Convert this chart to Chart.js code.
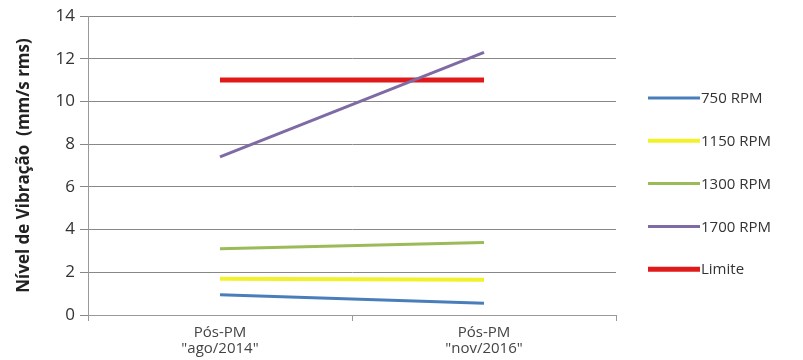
<!DOCTYPE html>
<html>
<head>
<meta charset="utf-8">
<script src="https://cdn.jsdelivr.net/npm/chart.js@4"></script>
<style>
  html, body { margin: 0; padding: 0; background: #fff; }
  #wrap { width: 803px; height: 360px; }
</style>
</head>
<body>
<div id="wrap"><canvas id="c" width="803" height="360"></canvas></div>
<script>
// Measurement dates and vibration levels per rotation speed
const categories = [["Pós-PM", "\"ago/2014\""], ["Pós-PM", "\"nov/2016\""]];
const seriesNames = ["750 RPM", "1150 RPM", "1300 RPM", "1700 RPM", "Limite"];
const rpm750 = [0.95, 0.55];
const rpm1150 = [1.7, 1.65];
const rpm1300 = [3.1, 3.4];
const rpm1700 = [7.4, 12.3];
const limite = [11, 11];
const yTicks = [0, 2, 4, 6, 8, 10, 12, 14];

const colors = ["#4a7ebb", "#f2f22a", "#9bbb59", "#7f6ba4", "#e01a1a"];
const widths = [3, 4, 3, 3, 5];
const values = [rpm750, rpm1150, rpm1300, rpm1700, limite];

// Legend drawn at the right, one line sample per series
const sideLegend = {
  id: 'sideLegend',
  afterDraw(chart) {
    const ctx = chart.ctx;
    ctx.save();
    chart.data.datasets.forEach((ds, i) => {
      const y = 98 + i * 42.8;
      ctx.strokeStyle = ds.borderColor;
      ctx.lineWidth = ds.borderWidth;
      ctx.beginPath();
      ctx.moveTo(648, y);
      ctx.lineTo(700, y);
      ctx.stroke();
      ctx.fillStyle = '#333';
      ctx.font = '15px "Open Sans"';
      ctx.textBaseline = 'middle';
      ctx.textAlign = 'left';
      ctx.fillText(ds.label, 701, y + 1);
    });
    ctx.restore();
  }
};

new Chart(document.getElementById('c'), {
  type: 'line',
  data: {
    labels: categories,
    datasets: seriesNames.map((name, i) => ({
      label: name,
      data: values[i],
      borderColor: colors[i],
      backgroundColor: colors[i],
      borderWidth: widths[i],
      pointRadius: 0,
      tension: 0,
      fill: false
    }))
  },
  options: {
    responsive: false,
    animation: false,
    layout: { padding: { top: 16, right: 187, left: 0, bottom: 0 } },
    plugins: { legend: { display: false }, tooltip: { enabled: false } },
    scales: {
      x: {
        offset: true,
        grid: {
          offset: true,
          drawOnChartArea: false,
          drawTicks: true,
          tickLength: 6,
          color: '#999'
        },
        border: { display: true, color: '#999' },
        ticks: {
          color: '#444',
          font: { family: '"Open Sans"', size: 15, lineHeight: 1.1 },
          maxRotation: 0,
          padding: 3
        },
        afterFit(scale) { scale.height = 45; }
      },
      y: {
        min: 0,
        max: 14,
        afterBuildTicks(scale) { scale.ticks = yTicks.map(v => ({ value: v })); },
        grid: { color: '#888', tickLength: 8, lineWidth: 1 },
        border: { display: true, color: '#999' },
        ticks: {
          color: '#333',
          font: { family: '"Open Sans"', size: 17 },
          padding: 5
        },
        title: {
          display: true,
          text: 'Nível de Vibração  (mm/s rms)',
          color: '#222',
          font: { family: '"Open Sans"', size: 17, weight: 'bold' },
          padding: { top: 14, bottom: 2 }
        },
        afterFit(scale) { scale.width = 88; }
      }
    }
  },
  plugins: [sideLegend]
});
</script>
</body>
</html>
